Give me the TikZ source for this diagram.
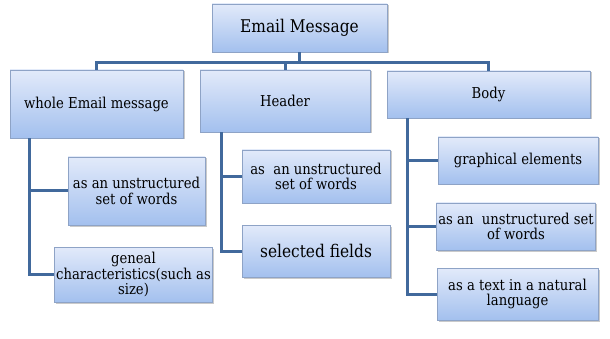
\documentclass[tikz,border=0pt]{standalone}
\usepackage{fontspec}
\setmainfont{DejaVu Serif}[FakeStretch=0.88]
\usetikzlibrary{shadows}
\definecolor{boxtop}{HTML}{E2EAFA}
\definecolor{boxbot}{HTML}{A3C0EE}
\definecolor{boxline}{HTML}{8EA3C6}
\definecolor{conn}{HTML}{41699C}
\tikzset{
  box/.style={draw=boxline, line width=0.8pt, top color=boxtop, bottom color=boxbot,
    drop shadow={shadow xshift=1.5pt, shadow yshift=-1.5pt, fill=black!35, opacity=0.6},
    align=center, inner sep=2pt, font=\fontsize{15}{15.5}\selectfont, text=black},
  conline/.style={draw=conn, line width=3pt, line join=miter}
}
\begin{document}
\begin{tikzpicture}[x=1pt,y=-1pt]
\useasboundingbox (0,0) rectangle (610,339);
\node[box, minimum width=175pt, minimum height=48pt, font=\fontsize{17.5}{18}\selectfont] (top) at (299.5,28) {Email Message};
\node[box, minimum width=173pt, minimum height=68pt] (whole) at (96.5,104) {whole Email message};
\node[box, minimum width=170pt, minimum height=62pt] (header) at (285,101) {Header};
\node[box, minimum width=203pt, minimum height=47pt] (body) at (488.5,94.5) {Body};
\node[box, minimum width=137pt, minimum height=68pt] (l1) at (136.5,191) {as an unstructured\\set of words};
\node[box, minimum width=157pt, minimum height=55pt] (l2) at (133.5,274.5) {geneal\\characteristics(such as\\size)};
\node[box, minimum width=148pt, minimum height=53pt] (h1) at (316,176.5) {as\ \ an unstructured\\set of words};
\node[box, minimum width=148pt, minimum height=52pt, font=\fontsize{17.5}{18}\selectfont] (h2) at (316,251) {selected fields};
\node[box, minimum width=160pt, minimum height=47pt] (b1) at (518,160.5) {graphical elements};
\node[box, minimum width=158pt, minimum height=47pt] (b2) at (516,226.5) {as an\ \ unstructured set\\of words};
\node[box, minimum width=161pt, minimum height=52pt] (b3) at (517.5,294) {as a text in a natural\\language};
\coordinate (bar) at (0,63);
\draw[conline] (top.south) -- (top.south |- bar);
\draw[conline] (whole.north) -- (whole.north |- bar) -- (body.north |- bar) -- (body.north);
\draw[conline] (header.north |- bar) -- (header.north);
\coordinate (wl) at ([xshift=20pt]whole.south west);
\coordinate (hl) at ([xshift=22pt]header.south west);
\coordinate (bl) at ([xshift=21pt]body.south west);
\draw[conline] (wl) |- (l1.west);
\draw[conline] (wl) |- (l2.west);
\draw[conline] (hl) |- (h1.west);
\draw[conline] (hl) |- (h2.west);
\draw[conline] (bl) |- (b1.west);
\draw[conline] (bl) |- (b2.west);
\draw[conline] (bl) |- (b3.west);
\end{tikzpicture}
\end{document}
